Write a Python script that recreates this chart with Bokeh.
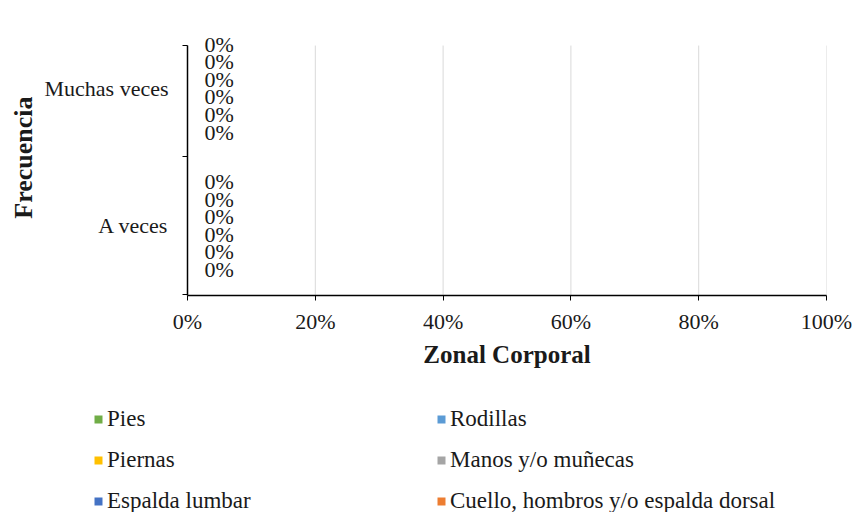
from bokeh.plotting import figure
from bokeh.layouts import column
from bokeh.models import (ColumnDataSource, Range1d, FixedTicker, NumeralTickFormatter,
                          Legend, LegendItem, Title)
from bokeh.transform import dodge
from bokeh.core.properties import value
from bokeh.embed import file_html
from bokeh.resources import INLINE

# ---- data ----
categories = ["A veces", "Muchas veces"]
series = ["Espalda lumbar", "Cuello, hombros y/o espalda dorsal", "Manos y/o muñecas",
          "Piernas", "Rodillas", "Pies"]
colors = ["#4472C4", "#ED7D31", "#A5A5A5", "#FFC000", "#5B9BD5", "#70AD47"]
espalda_lumbar = [0.0, 0.0]
cuello = [0.0, 0.0]
manos = [0.0, 0.0]
piernas = [0.0, 0.0]
rodillas = [0.0, 0.0]
pies = [0.0, 0.0]
values_by_series = [espalda_lumbar, cuello, manos, piernas, rodillas, pies]
x_ticks = [0, 0.2, 0.4, 0.6, 0.8, 1.0]

FONT = "Liberation Serif"
TXT = "#1a1a1a"
y_lo, y_axis_top = -0.51, 1.31      # visible axis extent (category units)
y_view_top = 1.456                  # a little head-room so top labels are not clipped

p = figure(width=854, height=400, output_backend="svg", toolbar_location=None,
           x_range=Range1d(0, 1), y_range=Range1d(y_lo, y_view_top),
           min_border_left=187, min_border_right=28, min_border_top=25,
           min_border_bottom=105)
p.outline_line_color = None
p.background_fill_color = "white"
p.border_fill_color = "white"

# legend-only figure below the chart
pl = figure(width=854, height=112, output_backend="svg", toolbar_location=None,
            x_range=Range1d(0, 1), y_range=Range1d(y_lo, y_axis_top),
            x_axis_type=None, y_axis_type=None,
            min_border_left=0, min_border_right=0, min_border_top=0,
            min_border_bottom=0)
pl.outline_line_color = None
pl.xgrid.grid_line_color = None
pl.ygrid.grid_line_color = None
for fig in (p, pl):
    if "frame_align" in fig.properties():
        fig.frame_align = False

# vertical gridlines limited to the axis extent
p.segment(x0=x_ticks, y0=[y_lo] * len(x_ticks), x1=x_ticks,
          y1=[y_axis_top] * len(x_ticks), line_color="#D9D9D9", line_width=1)

bar_h = 0.128
renderers = []
legend_renderers = []
for i, (name, vals, col) in enumerate(zip(series, values_by_series, colors)):
    off = (i - 2.5) * bar_h
    src = ColumnDataSource(dict(y=list(range(len(categories))), v=vals,
                                lab=[f"{v:.0%}" for v in vals]))
    r = p.hbar(y=dodge("y", off), left=0, right="v", height=bar_h * 0.9,
               fill_color=col, line_color=None, source=src)
    renderers.append(r)
    p.text(x="v", y=dodge("y", off), text="lab", source=src, x_offset=17,
           text_baseline="middle", text_align="left", text_font=value(FONT),
           text_font_size="22px", text_color=TXT)
    lr = pl.hbar(y=dodge("y", off), left=0, right="v", height=bar_h * 0.9,
                 fill_color=col, line_color=None, source=src)
    legend_renderers.append(lr)

# x axis
xa = p.xaxis[0]
xa.ticker = FixedTicker(ticks=x_ticks, minor_ticks=[])
xa.formatter = NumeralTickFormatter(format="0%")
xa.axis_line_color = "black"
xa.axis_line_width = 1.5
xa.major_tick_line_color = "black"
xa.major_tick_out = 5
xa.major_tick_in = 0
xa.minor_tick_line_color = None
xa.major_label_text_font = FONT
xa.major_label_text_font_size = "22px"
xa.major_label_text_color = TXT
xa.major_label_standoff = 8
xa.axis_label = "Zonal Corporal"
xa.axis_label_text_font = FONT
xa.axis_label_text_font_style = "bold"
xa.axis_label_text_font_size = "25px"
xa.axis_label_text_color = TXT
xa.axis_label_standoff = 4

# y axis
ya = p.yaxis[0]
ya.bounds = (y_lo, y_axis_top)
ya.ticker = FixedTicker(ticks=list(range(len(categories))),
                        minor_ticks=[-0.5, 0.5, y_axis_top])
ya.major_label_overrides = {i: c for i, c in enumerate(categories)}
ya.axis_line_color = "black"
ya.axis_line_width = 1.5
ya.major_tick_line_color = None
ya.major_tick_out = 5
ya.major_tick_in = 0
ya.minor_tick_line_color = "black"
ya.minor_tick_out = 5
ya.minor_tick_in = 0
ya.major_label_text_font = FONT
ya.major_label_text_font_size = "22px"
ya.major_label_text_color = TXT
ya.major_label_standoff = 14

ytitle = Title(text="Frecuencia", align="right", offset=71, standoff=8,
               text_font=FONT, text_font_style="bold", text_font_size="26px",
               text_color=TXT)
p.add_layout(ytitle, "left")

p.xgrid.grid_line_color = None
p.ygrid.grid_line_color = None

# legends: two columns of three
def make_legend(idx, loc):
    items = [LegendItem(label=series[k], renderers=[legend_renderers[k]]) for k in idx]
    lg = Legend(items=items, location=loc, orientation="vertical",
                padding=0, margin=0, spacing=15, label_height=20,
                glyph_width=10, glyph_height=10, label_standoff=4,
                label_text_font=FONT, label_text_font_size="23px",
                label_text_color=TXT,
                border_line_color=None, background_fill_alpha=0)
    pl.add_layout(lg)

make_legend([5, 3, 0], (93, -2))
make_legend([4, 2, 1], (436, -2))

open("out.html", "w").write(file_html(column(p, pl, spacing=0), INLINE))
